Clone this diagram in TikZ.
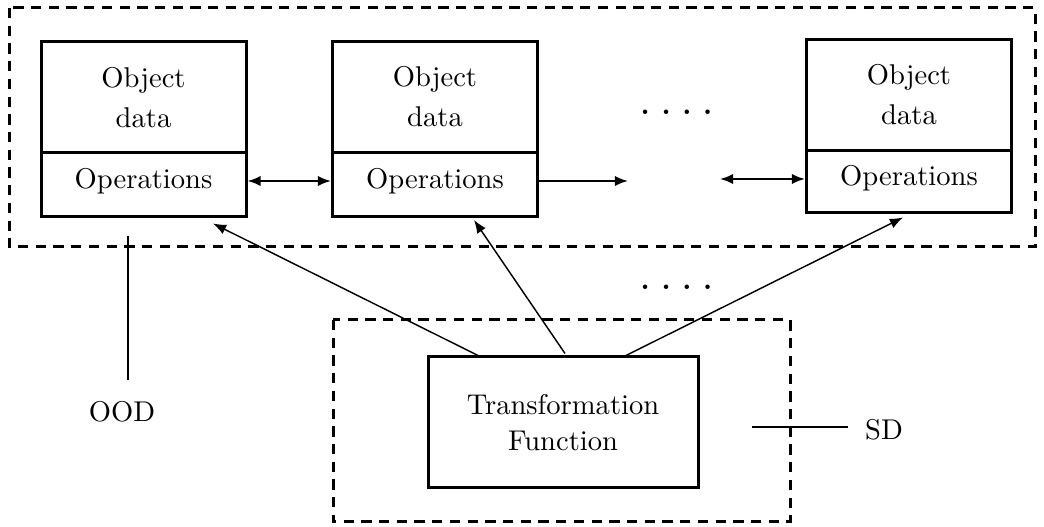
\documentclass[tikz,border=0pt]{standalone}
\usetikzlibrary{arrows.meta}
\newcommand\px{0.35pt}
\begin{document}
\begin{tikzpicture}[x=0.35pt,y=-0.35pt,
  obox/.style={draw,line width=1.05pt,minimum width=205*\px,inner sep=0pt},
  tbox/.style={draw,line width=1.05pt,minimum width=270*\px,minimum height=131*\px,inner sep=0pt,align=center,font=\fontsize{10}{12.8}\selectfont},
  lbl/.style={align=center,inner sep=0pt,font=\fontsize{10}{14}\selectfont},
  region/.style={draw,line width=1.05pt,dash pattern=on 3.6pt off 2.6pt},
  harr/.style={line width=0.7pt,{Latex[length=4.6pt,width=3.6pt]}-{Latex[length=4.6pt,width=3.6pt]}},
  sarr/.style={line width=0.5pt,-{Latex[length=4.6pt,width=3.6pt]}},
  plain/.style={line width=0.7pt},
  dotrow/.style={inner sep=0pt,anchor=base,font=\bfseries}]
\useasboundingbox (0,0) rectangle (1044,527);
% regions
\draw[region] (9,8) rectangle (1035,247);
\draw[region] (333,320) rectangle (790,522);
% object boxes
\node[obox,minimum height=175*\px] (b1) at (143.5,129.5) {};
\node[obox,minimum height=175*\px] (b2) at (435,129.5) {};
\node[obox,minimum height=173*\px] (b3) at (909,126.5) {};
\draw[line width=1.05pt] (b1.west |- 0,153) -- (b1.east |- 0,153);
\draw[line width=1.05pt] (b2.west |- 0,153) -- (b2.east |- 0,153);
\draw[line width=1.05pt] (b3.west |- 0,151) -- (b3.east |- 0,151);
\node[lbl] (d1) at (143.5,98) {Object\\data};
\node[lbl] (d2) at (435,97) {Object\\data};
\node[lbl] (d3) at (909,95) {Object\\data};
\node[lbl] (o1) at (143.5,181) {Operations};
\node[lbl] (o2) at (435,181) {Operations};
\node[lbl] (o3) at (909,178) {Operations};
% transformation
\node[tbox] (tf) at (563,422.5) {Transformation\\Function};
% dots
\node[dotrow] (dots1) at (676.5,114.5) {.\hspace{4.1pt}.\hspace{4.1pt}.\hspace{4.1pt}.};
\node[dotrow] (dots2) at (676.5,289.5) {.\hspace{4.1pt}.\hspace{4.1pt}.\hspace{4.1pt}.};
% horizontal arrows
\coordinate (g1) at (628,181);
\coordinate (g2) at (720,179);
\draw[harr] (b1.east |- 0,181) -- (b2.west |- 0,181);
\draw[sarr,line width=0.7pt] (b2.east |- 0,181) -- (g1);
\draw[harr] (g2) -- (b3.west |- 0,179);
% slanted arrows
\draw[sarr] ([xshift=-85*\px]tf.north) -- ([xshift=69.5*\px,yshift=-5*\px]b1.south);
\draw[sarr] ([xshift=2*\px,yshift=2*\px]tf.north) -- ([xshift=39*\px,yshift=-1.5*\px]b2.south);
\draw[sarr] ([xshift=63*\px]tf.north) -- ([xshift=-6*\px,yshift=-3*\px]b3.south);
% labels
\coordinate (oodtop) at (128,236);
\coordinate (oodbot) at (128,380);
\draw[plain] (oodtop) -- (oodbot);
\node[lbl] (ood) at (122,412) {OOD};
\coordinate (sdl) at (752,427);
\coordinate (sdr) at (848,427);
\draw[plain] (sdl) -- (sdr);
\node[lbl] (sd) at (884,430) {SD};
\end{tikzpicture}
\end{document}
